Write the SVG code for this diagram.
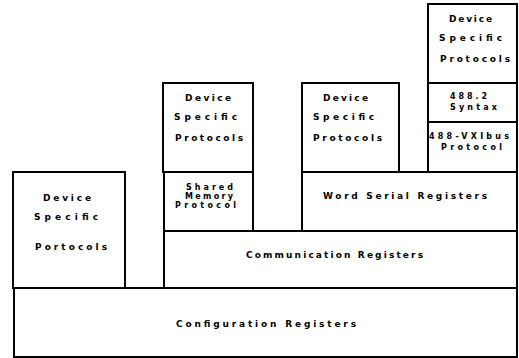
<svg xmlns="http://www.w3.org/2000/svg" width="519" height="358" viewBox="0 0 519 358">
<style>
rect.box{fill:#fff;stroke:#000;stroke-width:2}
text{font-family:"DejaVu Sans","Liberation Sans",sans-serif;font-weight:bold;font-size:9px;fill:#000}
text.sm{font-size:8px}
</style>
<rect width="519" height="358" fill="#fff"/>
<g id="config">
<rect class="box" x="14" y="288" width="503" height="69"/>
<text x="176" y="327" textLength="180" lengthAdjust="spacing">Configuration Registers</text>
</g>
<g id="comm">
<rect class="box" x="164" y="231" width="353" height="57"/>
<text x="246" y="258" textLength="177" lengthAdjust="spacing">Communication Registers</text>
</g>
<g id="left-dsp">
<rect class="box" x="13" y="172" width="112" height="116"/>
<text x="43" y="201" textLength="48" lengthAdjust="spacing">Device</text>
<text x="34" y="220" textLength="64" lengthAdjust="spacing">Specific</text>
<text x="35" y="250" textLength="72" lengthAdjust="spacing">Portocols</text>
</g>
<g id="shared-memory">
<rect class="box" x="164" y="172" width="89" height="59"/>
<text class="sm" x="186" y="190" textLength="47" lengthAdjust="spacing">Shared</text>
<text class="sm" x="185" y="199" textLength="48" lengthAdjust="spacing">Memory</text>
<text class="sm" x="175" y="208" textLength="61" lengthAdjust="spacing">Protocol</text>
</g>
<g id="mid-dsp">
<rect class="box" x="163" y="83" width="90" height="89"/>
<text x="185" y="101" textLength="46" lengthAdjust="spacing">Device</text>
<text x="174" y="120" textLength="63" lengthAdjust="spacing">Specific</text>
<text x="175" y="141" textLength="68" lengthAdjust="spacing">Protocols</text>
</g>
<g id="word-serial">
<rect class="box" x="302" y="172" width="215" height="59"/>
<text x="323" y="199" textLength="164" lengthAdjust="spacing">Word Serial Registers</text>
</g>
<g id="right-dsp">
<rect class="box" x="302" y="83" width="97" height="89"/>
<text x="323" y="101" textLength="45" lengthAdjust="spacing">Device</text>
<text x="313" y="120" textLength="61" lengthAdjust="spacing">Specific</text>
<text x="313" y="141" textLength="69" lengthAdjust="spacing">Protocols</text>
</g>
<g id="vxibus">
<rect class="box" x="428" y="122" width="89" height="50"/>
<text class="sm" x="429" y="139" textLength="80" lengthAdjust="spacing">488-VXIbus</text>
<text class="sm" x="441" y="150" textLength="61" lengthAdjust="spacing">Protocol</text>
</g>
<g id="syntax">
<rect class="box" x="428" y="83" width="89" height="39"/>
<text class="sm" x="450" y="99" textLength="37" lengthAdjust="spacing">488.2</text>
<text class="sm" x="450" y="110" textLength="47" lengthAdjust="spacing">Syntax</text>
</g>
<g id="top-dsp">
<rect class="box" x="428" y="4" width="89" height="79"/>
<text x="449" y="22" textLength="43" lengthAdjust="spacing">Device</text>
<text x="439" y="41" textLength="63" lengthAdjust="spacing">Specific</text>
<text x="440" y="62" textLength="70" lengthAdjust="spacing">Protocols</text>
</g>
</svg>
